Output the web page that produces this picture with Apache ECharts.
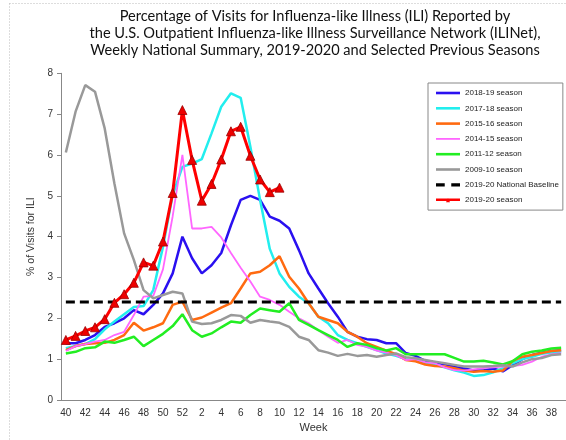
<!DOCTYPE html>
<html><head><meta charset="utf-8">
<script src="https://cdn.jsdelivr.net/npm/echarts@6/dist/echarts.min.js"></script>
<style>html,body{margin:0;padding:0;background:#fff}#c{width:566px;height:440px}</style>
</head><body><div id="c"></div>
<script>
var weeks = ['40','41','42','43','44','45','46','47','48','49','50','51','52','1','2','3','4','5','6','7','8','9','10','11','12','13','14','15','16','17','18','19','20','21','22','23','24','25','26','27','28','29','30','31','32','33','34','35','36','37','38','39'];
var s201819 = [1.39,1.39,1.47,1.59,1.79,1.88,2.0,2.2,2.1,2.33,2.61,3.10,4.0,3.47,3.10,3.30,3.6,4.28,4.90,5.0,4.9,4.49,4.39,4.20,3.67,3.10,2.73,2.37,2.04,1.67,1.55,1.49,1.47,1.39,1.39,1.15,1.08,0.96,0.91,0.88,0.81,0.77,0.72,0.72,0.77,0.70,0.85,1.0,1.10,1.16,1.20,1.22];
var s201718 = [1.27,1.32,1.37,1.49,1.73,1.92,2.10,2.28,2.30,2.69,3.75,5.02,5.71,5.79,5.90,6.53,7.18,7.51,7.40,6.2,4.9,3.7,3.1,2.77,2.53,2.37,2.04,1.88,1.59,1.47,1.39,1.30,1.22,1.14,1.08,1.0,0.97,0.90,0.86,0.80,0.73,0.67,0.59,0.61,0.68,0.78,0.90,1.0,1.06,1.13,1.16,1.18];
var s201516 = [1.22,1.32,1.37,1.39,1.40,1.47,1.59,1.89,1.70,1.78,1.88,2.33,2.41,1.96,2.02,2.14,2.26,2.37,2.73,3.10,3.14,3.30,3.52,3.02,2.73,2.37,2.04,1.96,1.88,1.67,1.55,1.39,1.30,1.21,1.12,0.98,0.95,0.87,0.83,0.82,0.78,0.72,0.69,0.71,0.69,0.72,0.95,1.06,1.10,1.15,1.20,1.22];
var s201415 = [1.20,1.32,1.37,1.43,1.47,1.59,1.67,2.08,2.53,2.55,3.2,4.5,6.0,4.20,4.20,4.24,3.98,3.6,3.24,2.9,2.53,2.45,2.33,2.16,2.0,1.88,1.71,1.55,1.40,1.47,1.35,1.30,1.21,1.16,1.10,0.98,1.0,0.93,0.90,0.80,0.73,0.72,0.75,0.78,0.80,0.82,0.83,0.86,0.94,1.06,1.12,1.15];
var s201112 = [1.14,1.18,1.27,1.29,1.43,1.40,1.47,1.55,1.32,1.47,1.62,1.81,2.10,1.71,1.55,1.63,1.78,1.92,1.89,2.08,2.24,2.20,2.16,2.37,1.96,1.84,1.71,1.59,1.47,1.30,1.39,1.35,1.27,1.21,1.27,1.12,1.12,1.12,1.12,1.12,1.03,0.94,0.94,0.96,0.92,0.87,0.95,1.12,1.18,1.21,1.26,1.28];
var s200910 = [6.06,7.06,7.71,7.55,6.65,5.30,4.08,3.43,2.69,2.49,2.57,2.65,2.61,1.92,1.86,1.88,1.96,2.08,2.06,1.89,1.96,1.92,1.89,1.79,1.55,1.47,1.22,1.16,1.08,1.13,1.08,1.10,1.06,1.10,1.14,1.05,1.02,0.98,0.94,0.90,0.86,0.82,0.82,0.82,0.83,0.85,0.82,0.92,1.0,1.03,1.10,1.12];
var s201920 = [1.47,1.57,1.69,1.78,1.98,2.38,2.59,2.87,3.37,3.29,3.88,5.07,7.10,5.88,4.88,5.29,5.89,6.58,6.69,5.98,5.40,5.09,5.20];
var baselineValue = 2.4;
var yTicks = [0,1,2,3,4,5,6,7,8];

var baseline = weeks.map(function(){ return baselineValue; });

var ICON_LINE = 'path://M0,0H24V2.6H0Z';
var ICON_THIN = 'path://M0,0H24V1.8H0Z';
var ICON_DASH = 'path://M0,0H8V3H0Z M14,0H22V3H14Z';
var ICON_TRI = 'path://M0,3.6H24V6H0Z M10,7.3L12,3L14,7.3Z';

function ln(name, data, color, width) {
  return { name: name, type: 'line', data: data, symbol: 'none', smooth: false,
    lineStyle: { color: color, width: width }, itemStyle: { color: color }, z: 2 };
}
var series = [
  ln('2018-19 season', s201819, '#2a10f0', 2.5),
  ln('2017-18 season', s201718, '#22eeee', 2.5),
  ln('2015-16 season', s201516, '#ff6a10', 2.5),
  ln('2014-15 season', s201415, '#ff66ff', 1.8),
  ln('2011-12 season', s201112, '#22ee22', 2.5),
  ln('2009-10 season', s200910, '#999999', 2.5),
  { name: '2019-20 National Baseline', type: 'line', data: baseline, symbol: 'none',
    lineStyle: { color: '#000', width: 3, type: [9, 5] }, itemStyle: { color: '#000' }, z: 3 },
  { name: '2019-20 season', type: 'line', data: s201920, symbol: 'triangle', symbolSize: 9,
    showAllSymbol: true,
    lineStyle: { color: '#ff0000', width: 3 },
    itemStyle: { color: '#ee0000', borderColor: '#990000', borderWidth: 0.8 }, z: 5 }
];

var chart = echarts.init(document.getElementById('c'), null, { renderer: 'canvas' });
chart.setOption({
  animation: false,
  backgroundColor: '#fff',
  title: {
    text: 'Percentage of Visits for Influenza-like Illness (ILI) Reported by\nthe U.S. Outpatient Influenza-like Illness Surveillance Network (ILINet),\nWeekly National Summary, 2019-2020 and Selected Previous Seasons',
    left: 310, top: 3, textAlign: 'center',
    textStyle: { fontFamily: 'Lato', fontSize: 14.6, fontWeight: 'normal', color: '#111', lineHeight: 17 }
  },
  graphic: [
    { type: 'line', shape: { x1: 9.5, y1: 3.5, x2: 566, y2: 3.5 }, style: { stroke: '#bbb', lineDash: [1, 2], lineWidth: 1 } },
    { type: 'line', shape: { x1: 9.5, y1: 3.5, x2: 9.5, y2: 440 }, style: { stroke: '#bbb', lineDash: [1, 2], lineWidth: 1 } }
  ],
  legend: {
    orient: 'vertical', left: 428, top: 83, itemWidth: 24, itemHeight: 10, itemGap: 7.3,
    padding: [6, 4, 6, 8], borderColor: '#888', borderWidth: 1, backgroundColor: '#fff',
    textStyle: { fontFamily: 'Liberation Sans', fontSize: 8, color: '#222' },
    data: [
      { name: '2018-19 season', icon: ICON_LINE },
      { name: '2017-18 season', icon: ICON_LINE },
      { name: '2015-16 season', icon: ICON_LINE },
      { name: '2014-15 season', icon: ICON_THIN },
      { name: '2011-12 season', icon: ICON_LINE },
      { name: '2009-10 season', icon: ICON_LINE },
      { name: '2019-20 National Baseline', icon: ICON_DASH },
      { name: '2019-20 season', icon: ICON_TRI, itemStyle: { color: '#ff0000', borderWidth: 0 } }
    ]
  },
  grid: { left: 61, top: 73.3, width: 516, height: 326.7, containLabel: false },
  xAxis: {
    type: 'category', data: weeks, boundaryGap: true,
    name: 'Week', nameLocation: 'middle', nameGap: 22,
    nameTextStyle: { fontFamily: 'Liberation Sans', fontSize: 11, color: '#333' },
    axisLine: { lineStyle: { color: '#888', width: 1 } },
    axisTick: { interval: 0, alignWithLabel: true, length: 3, lineStyle: { color: '#888' } },
    axisLabel: { interval: 1, fontFamily: 'Liberation Sans', fontSize: 10, color: '#333', margin: 8 }
  },
  yAxis: {
    type: 'value', min: yTicks[0], max: yTicks[yTicks.length - 1], interval: 1,
    name: '% of Visits for ILI', nameLocation: 'middle', nameGap: 18, nameRotate: 90,
    nameTextStyle: { fontFamily: 'Liberation Sans', fontSize: 10.5, color: '#333' },
    axisLine: { show: true, lineStyle: { color: '#888', width: 1 } },
    axisTick: { show: true, length: 4, lineStyle: { color: '#888' } },
    splitLine: { show: false },
    axisLabel: { fontFamily: 'Liberation Sans', fontSize: 10, color: '#333', margin: 8 }
  },
  series: series
});
</script></body></html>
